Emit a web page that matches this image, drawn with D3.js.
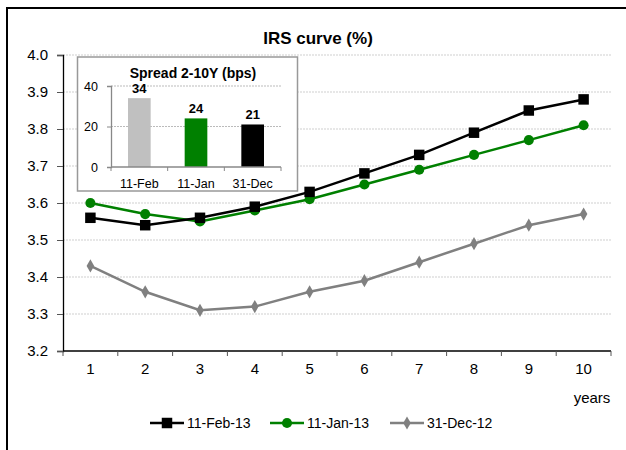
<!DOCTYPE html>
<html>
<head>
<meta charset="utf-8">
<script src="https://cdn.jsdelivr.net/npm/d3@7"></script>
<style>
  html, body { margin: 0; padding: 0; background: #fff; }
  svg { display: block; font-family: "Liberation Sans", Arial, sans-serif; }
</style>
</head>
<body>
<svg id="chart" width="626" height="450"></svg>
<script>
// Swap-curve tenors (years) and the three observation dates
const tenors = [1, 2, 3, 4, 5, 6, 7, 8, 9, 10];
const febValues = [3.56, 3.54, 3.56, 3.59, 3.63, 3.68, 3.73, 3.79, 3.85, 3.88];
const janValues = [3.60, 3.57, 3.55, 3.58, 3.61, 3.65, 3.69, 3.73, 3.77, 3.81];
const decValues = [3.43, 3.36, 3.31, 3.32, 3.36, 3.39, 3.44, 3.49, 3.54, 3.57];
const seriesNames = ["11-Feb-13", "11-Jan-13", "31-Dec-12"];
const yTicks = [3.2, 3.3, 3.4, 3.5, 3.6, 3.7, 3.8, 3.9, 4.0];

// 2s10s spread inset
const spreadLabels = ["11-Feb", "11-Jan", "31-Dec"];
const spreadValues = [34, 24, 21];
const spreadTicks = [0, 20, 40];

const svg = d3.select("#chart");

// outer frame (open on the right and bottom)
svg.append("path")
  .attr("d", "M7,450 L7,8 L626,8")
  .attr("fill", "none").attr("stroke", "#000").attr("stroke-width", 2);

const plot = { left: 63, right: 611, top: 55, bottom: 351 };

const x = d3.scaleBand().domain(tenors).range([plot.left, plot.right]);
const y = d3.scaleLinear().domain([3.2, 4.0]).range([plot.bottom, plot.top]);

// gridlines
svg.append("g").selectAll("line")
  .data(yTicks.filter(t => t > 3.2))
  .join("line")
  .attr("x1", plot.left).attr("x2", plot.right)
  .attr("y1", d => y(d)).attr("y2", d => y(d))
  .attr("stroke", "#cfcfcf").attr("stroke-width", 1)
  .attr("stroke-dasharray", "2,1");

// y axis
const yAxis = svg.append("g")
  .attr("transform", `translate(${plot.left},0)`)
  .call(d3.axisLeft(y).tickValues(yTicks).tickFormat(d3.format(".1f")).tickSize(6).tickPadding(9));
yAxis.select(".domain").attr("stroke", "#000").attr("stroke-width", 1.3);
yAxis.selectAll(".tick line").attr("stroke", "#555");
yAxis.selectAll("text").attr("font-size", 15).attr("fill", "#000");

// x axis: ticks sit on the band boundaries, labels in the band centres
const xAxisG = svg.append("g").attr("transform", `translate(0,${plot.bottom})`);
xAxisG.append("line")
  .attr("x1", plot.left).attr("x2", plot.right)
  .attr("stroke", "#000").attr("stroke-width", 1.3);
const boundaries = tenors.map(t => x(t)).concat([x(tenors[tenors.length - 1]) + x.bandwidth()]);
xAxisG.selectAll("line.tk").data(boundaries).join("line")
  .attr("class", "tk")
  .attr("x1", d => d).attr("x2", d => d).attr("y1", 0).attr("y2", 5)
  .attr("stroke", "#555");
xAxisG.selectAll("text").data(tenors).join("text")
  .attr("x", d => x(d) + x.bandwidth() / 2).attr("y", 23)
  .attr("text-anchor", "middle").attr("font-size", 15).text(d => d);

svg.append("text").attr("x", 592).attr("y", 403)
  .attr("text-anchor", "middle").attr("font-size", 15).text("years");

// title
svg.append("text").attr("x", 318).attr("y", 44)
  .attr("text-anchor", "middle").attr("font-size", 17).attr("font-weight", "bold")
  .text("IRS curve (%)");

// series
const series = [
  { name: seriesNames[0], values: febValues, color: "#000000", marker: "square" },
  { name: seriesNames[1], values: janValues, color: "#008000", marker: "circle" },
  { name: seriesNames[2], values: decValues, color: "#808080", marker: "diamond" }
];
const symbolFor = { square: d3.symbolSquare, circle: d3.symbolCircle, diamond: d3.symbolDiamond };
const symbolSize = { square: 110, circle: 80, diamond: 50 };
const cx = t => x(t) + x.bandwidth() / 2;

const line = d3.line().x((d, i) => cx(tenors[i])).y(d => y(d));

// draw back to front so the Feb curve sits on top
series.slice().reverse().forEach(s => {
  const g = svg.append("g");
  g.append("path").datum(s.values)
    .attr("d", line).attr("fill", "none")
    .attr("stroke", s.color).attr("stroke-width", 2.5);
  g.selectAll("path.m").data(s.values).join("path")
    .attr("class", "m")
    .attr("transform", (d, i) => `translate(${cx(tenors[i])},${y(d)})`)
    .attr("d", d3.symbol().type(symbolFor[s.marker]).size(symbolSize[s.marker]))
    .attr("fill", s.color);
});

// legend
const legendX = [150, 270, 390];
const legend = svg.append("g");
series.forEach((s, i) => {
  const g = legend.append("g").attr("transform", `translate(${legendX[i]},423)`);
  g.append("line").attr("x1", 0).attr("x2", 34)
    .attr("stroke", s.color).attr("stroke-width", 2.5);
  g.append("path").attr("transform", "translate(17,0)")
    .attr("d", d3.symbol().type(symbolFor[s.marker]).size(symbolSize[s.marker]))
    .attr("fill", s.color);
  g.append("text").attr("x", 37).attr("y", 5)
    .attr("font-size", 14).text(s.name);
});

// inset bar chart
const inset = svg.append("g");
inset.append("rect")
  .attr("x", 77.5).attr("y", 57).attr("width", 220).attr("height", 134)
  .attr("fill", "#fff").attr("stroke", "#999").attr("stroke-width", 1.5);

const ix = d3.scaleBand().domain(spreadLabels).range([111, 281]).paddingInner(0.6).paddingOuter(0.3);
const iy = d3.scaleLinear().domain([0, 40]).range([167, 86]);
const barColors = ["#c0c0c0", "#008000", "#000000"];

inset.selectAll("line.g").data(spreadTicks.filter(t => t > 0)).join("line")
  .attr("class", "g")
  .attr("x1", 111).attr("x2", 281)
  .attr("y1", d => iy(d)).attr("y2", d => iy(d))
  .attr("stroke", "#bbb").attr("stroke-dasharray", "2,1");

inset.selectAll("rect.bar").data(spreadValues).join("rect")
  .attr("class", "bar")
  .attr("x", (d, i) => ix(spreadLabels[i]))
  .attr("width", ix.bandwidth())
  .attr("y", d => iy(d)).attr("height", d => iy(0) - iy(d))
  .attr("fill", (d, i) => barColors[i]);

inset.selectAll("text.v").data(spreadValues).join("text")
  .attr("class", "v")
  .attr("x", (d, i) => ix(spreadLabels[i]) + ix.bandwidth() / 2)
  .attr("y", d => iy(d) - 5)
  .attr("text-anchor", "middle").attr("font-size", 13).attr("font-weight", "bold")
  .text(d => d);

const iyAxis = inset.append("g").attr("transform", "translate(111,0)")
  .call(d3.axisLeft(iy).tickValues(spreadTicks).tickSize(4).tickPadding(9));
iyAxis.select(".domain").attr("stroke", "#888").attr("stroke-width", 1.3);
iyAxis.selectAll(".tick line").attr("stroke", "#888");
iyAxis.selectAll("text").attr("font-size", 12.5).attr("fill", "#000");

const ixAxis = inset.append("g").attr("transform", "translate(0,167)");
ixAxis.append("line").attr("x1", 111).attr("x2", 281).attr("stroke", "#888").attr("stroke-width", 1.3);
const bandStep = (281 - 111) / spreadLabels.length;
ixAxis.selectAll("line.tk").data(d3.range(spreadLabels.length + 1)).join("line")
  .attr("class", "tk")
  .attr("x1", d => 111 + d * bandStep).attr("x2", d => 111 + d * bandStep)
  .attr("y1", 0).attr("y2", 4).attr("stroke", "#888");
ixAxis.selectAll("text").data(spreadLabels).join("text")
  .attr("x", d => ix(d) + ix.bandwidth() / 2).attr("y", 21)
  .attr("text-anchor", "middle").attr("font-size", 12.5).text(d => d);

inset.append("text").attr("x", 193).attr("y", 78)
  .attr("text-anchor", "middle").attr("font-size", 14).attr("font-weight", "bold")
  .text("Spread 2-10Y (bps)");
</script>
</body>
</html>
